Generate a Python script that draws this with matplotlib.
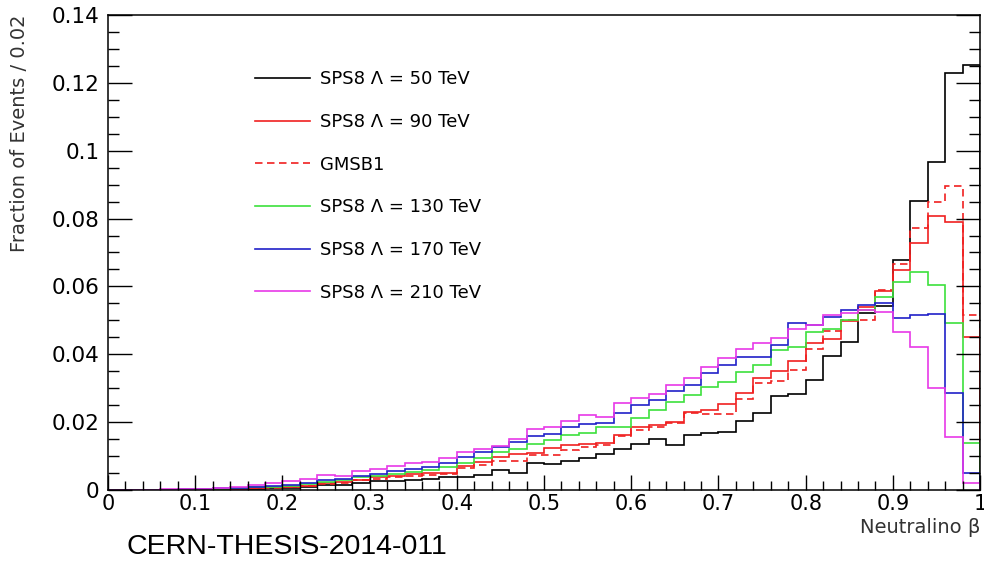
import numpy as np
import matplotlib.pyplot as plt
from matplotlib.lines import Line2D
from matplotlib.ticker import MultipleLocator, FuncFormatter

# histogram binning: 50 bins of 0.02 in neutralino beta
bin_edges = np.linspace(0.0, 1.0, 51)

# fraction of events per bin
sps8_50 = [0.0000, 0.0000, 0.0001, 0.0001, 0.0001, 0.0002, 0.0002, 0.0003, 0.0004, 0.0005,
           0.0005, 0.0008, 0.0015, 0.0016, 0.0022, 0.0027, 0.0027, 0.0030, 0.0033, 0.0037,
           0.0039, 0.0045, 0.0059, 0.0049, 0.0080, 0.0076, 0.0085, 0.0093, 0.0105, 0.0120,
           0.0135, 0.0149, 0.0133, 0.0162, 0.0169, 0.0172, 0.0204, 0.0227, 0.0278, 0.0282,
           0.0324, 0.0396, 0.0437, 0.0522, 0.0542, 0.0678, 0.0853, 0.0966, 0.1230, 0.1253]

sps8_90 = [0.0000, 0.0000, 0.0001, 0.0001, 0.0002, 0.0002, 0.0003, 0.0004, 0.0006, 0.0008,
           0.0010, 0.0013, 0.0020, 0.0024, 0.0030, 0.0037, 0.0040, 0.0046, 0.0049, 0.0050,
           0.0071, 0.0083, 0.0096, 0.0106, 0.0110, 0.0123, 0.0133, 0.0135, 0.0138, 0.0162,
           0.0187, 0.0192, 0.0201, 0.0231, 0.0236, 0.0254, 0.0286, 0.0329, 0.0352, 0.0380,
           0.0434, 0.0446, 0.0498, 0.0538, 0.0587, 0.0647, 0.0727, 0.0807, 0.0790, 0.0450]

gmsb1 = [0.0000, 0.0000, 0.0001, 0.0001, 0.0002, 0.0002, 0.0003, 0.0004, 0.0005, 0.0007,
         0.0009, 0.0012, 0.0018, 0.0022, 0.0028, 0.0033, 0.0037, 0.0042, 0.0045, 0.0048,
         0.0066, 0.0074, 0.0086, 0.0084, 0.0103, 0.0103, 0.0118, 0.0128, 0.0133, 0.0160,
         0.0177, 0.0187, 0.0198, 0.0226, 0.0224, 0.0224, 0.0268, 0.0316, 0.0320, 0.0354,
         0.0415, 0.0470, 0.0500, 0.0502, 0.0590, 0.0665, 0.0771, 0.0848, 0.0896, 0.0516]

sps8_130 = [0.0000, 0.0000, 0.0001, 0.0001, 0.0002, 0.0003, 0.0004, 0.0006, 0.0008, 0.0010,
            0.0013, 0.0018, 0.0025, 0.0030, 0.0037, 0.0042, 0.0048, 0.0054, 0.0059, 0.0069,
            0.0080, 0.0093, 0.0111, 0.0122, 0.0137, 0.0147, 0.0162, 0.0167, 0.0185, 0.0187,
            0.0212, 0.0236, 0.0258, 0.0280, 0.0303, 0.0318, 0.0349, 0.0368, 0.0413, 0.0422,
            0.0467, 0.0475, 0.0500, 0.0530, 0.0570, 0.0614, 0.0643, 0.0604, 0.0491, 0.0138]

sps8_170 = [0.0000, 0.0000, 0.0001, 0.0001, 0.0002, 0.0003, 0.0005, 0.0007, 0.0009, 0.0012,
            0.0016, 0.0021, 0.0028, 0.0033, 0.0042, 0.0047, 0.0055, 0.0062, 0.0069, 0.0080,
            0.0096, 0.0112, 0.0128, 0.0141, 0.0159, 0.0165, 0.0185, 0.0195, 0.0196, 0.0228,
            0.0251, 0.0265, 0.0293, 0.0309, 0.0345, 0.0368, 0.0391, 0.0391, 0.0427, 0.0493,
            0.0486, 0.0511, 0.0530, 0.0545, 0.0550, 0.0506, 0.0516, 0.0519, 0.0285, 0.0050]

sps8_210 = [0.0000, 0.0001, 0.0001, 0.0002, 0.0003, 0.0004, 0.0006, 0.0009, 0.0014, 0.0020,
            0.0027, 0.0031, 0.0043, 0.0042, 0.0057, 0.0061, 0.0071, 0.0079, 0.0083, 0.0093,
            0.0113, 0.0120, 0.0129, 0.0149, 0.0179, 0.0185, 0.0203, 0.0221, 0.0216, 0.0257,
            0.0270, 0.0283, 0.0309, 0.0329, 0.0363, 0.0388, 0.0417, 0.0432, 0.0447, 0.0475,
            0.0486, 0.0516, 0.0522, 0.0530, 0.0525, 0.0467, 0.0422, 0.0300, 0.0157, 0.0020]

labels = ['SPS8 Λ = 50 TeV', 'SPS8 Λ = 90 TeV', 'GMSB1',
          'SPS8 Λ = 130 TeV', 'SPS8 Λ = 170 TeV', 'SPS8 Λ = 210 TeV']
series = [sps8_50, sps8_90, gmsb1, sps8_130, sps8_170, sps8_210]
colors = ['#000000', '#f02020', '#f02020', '#3ce03c', '#2020c8', '#e838e8']
styles = ['-', '-', '--', '-', '-', '-']
dashed = (0, (4.5, 2.7))

plt.rcParams['font.family'] = ['DejaVu Sans']

fig = plt.figure(figsize=(9.84, 5.66), dpi=100)
ax = fig.add_axes([0.1098, 0.1343, 0.8862, 0.8392])

handles = []
for vals, lab, col, ls in zip(series, labels, colors, styles):
    lstyle = dashed if ls == '--' else '-'
    ax.stairs(vals, bin_edges, color=col, linewidth=1.2, linestyle=lstyle)
    handles.append(Line2D([], [], color=col, linewidth=1.2, linestyle=lstyle))

ax.set_xlim(0, 1)
ax.set_ylim(0, 0.14)

ax.xaxis.set_major_locator(MultipleLocator(0.1))
ax.xaxis.set_minor_locator(MultipleLocator(0.02))
ax.yaxis.set_major_locator(MultipleLocator(0.02))
ax.yaxis.set_minor_locator(MultipleLocator(0.005))
fmt = FuncFormatter(lambda v, p: '%g' % round(v, 4))
ax.xaxis.set_major_formatter(fmt)
ax.yaxis.set_major_formatter(fmt)

ax.tick_params(axis='x', which='major', direction='in', length=11, width=1,
               labelsize=15, pad=3)
ax.tick_params(axis='x', which='minor', direction='in', length=6.5, width=1)
ax.tick_params(axis='y', which='major', direction='in', length=17, width=1,
               right=True, labelsize=15.5, pad=6)
ax.tick_params(axis='y', which='minor', direction='in', length=8, width=1, right=True)
for sp in ax.spines.values():
    sp.set_linewidth(1.1)

ax.legend(handles, labels, loc='upper left', bbox_to_anchor=(0.168, 0.884),
          frameon=False, fontsize=13, borderpad=0, borderaxespad=0,
          handlelength=3.05, handletextpad=0.55, labelspacing=1.37)

fig.text(20 / 984, 0.9735, 'Fraction of Events / 0.02', rotation=90,
         ha='center', va='top', fontsize=14, color='#333333')
fig.text(0.996, 0.068, 'Neutralino β', ha='right', va='center',
         fontsize=14, color='#333333')
fig.text(0.129, 0.01, 'CERN-THESIS-2014-011', ha='left', va='bottom',
         fontsize=20.5, family=['Liberation Sans'])

fig.savefig('out.png', dpi=100)
